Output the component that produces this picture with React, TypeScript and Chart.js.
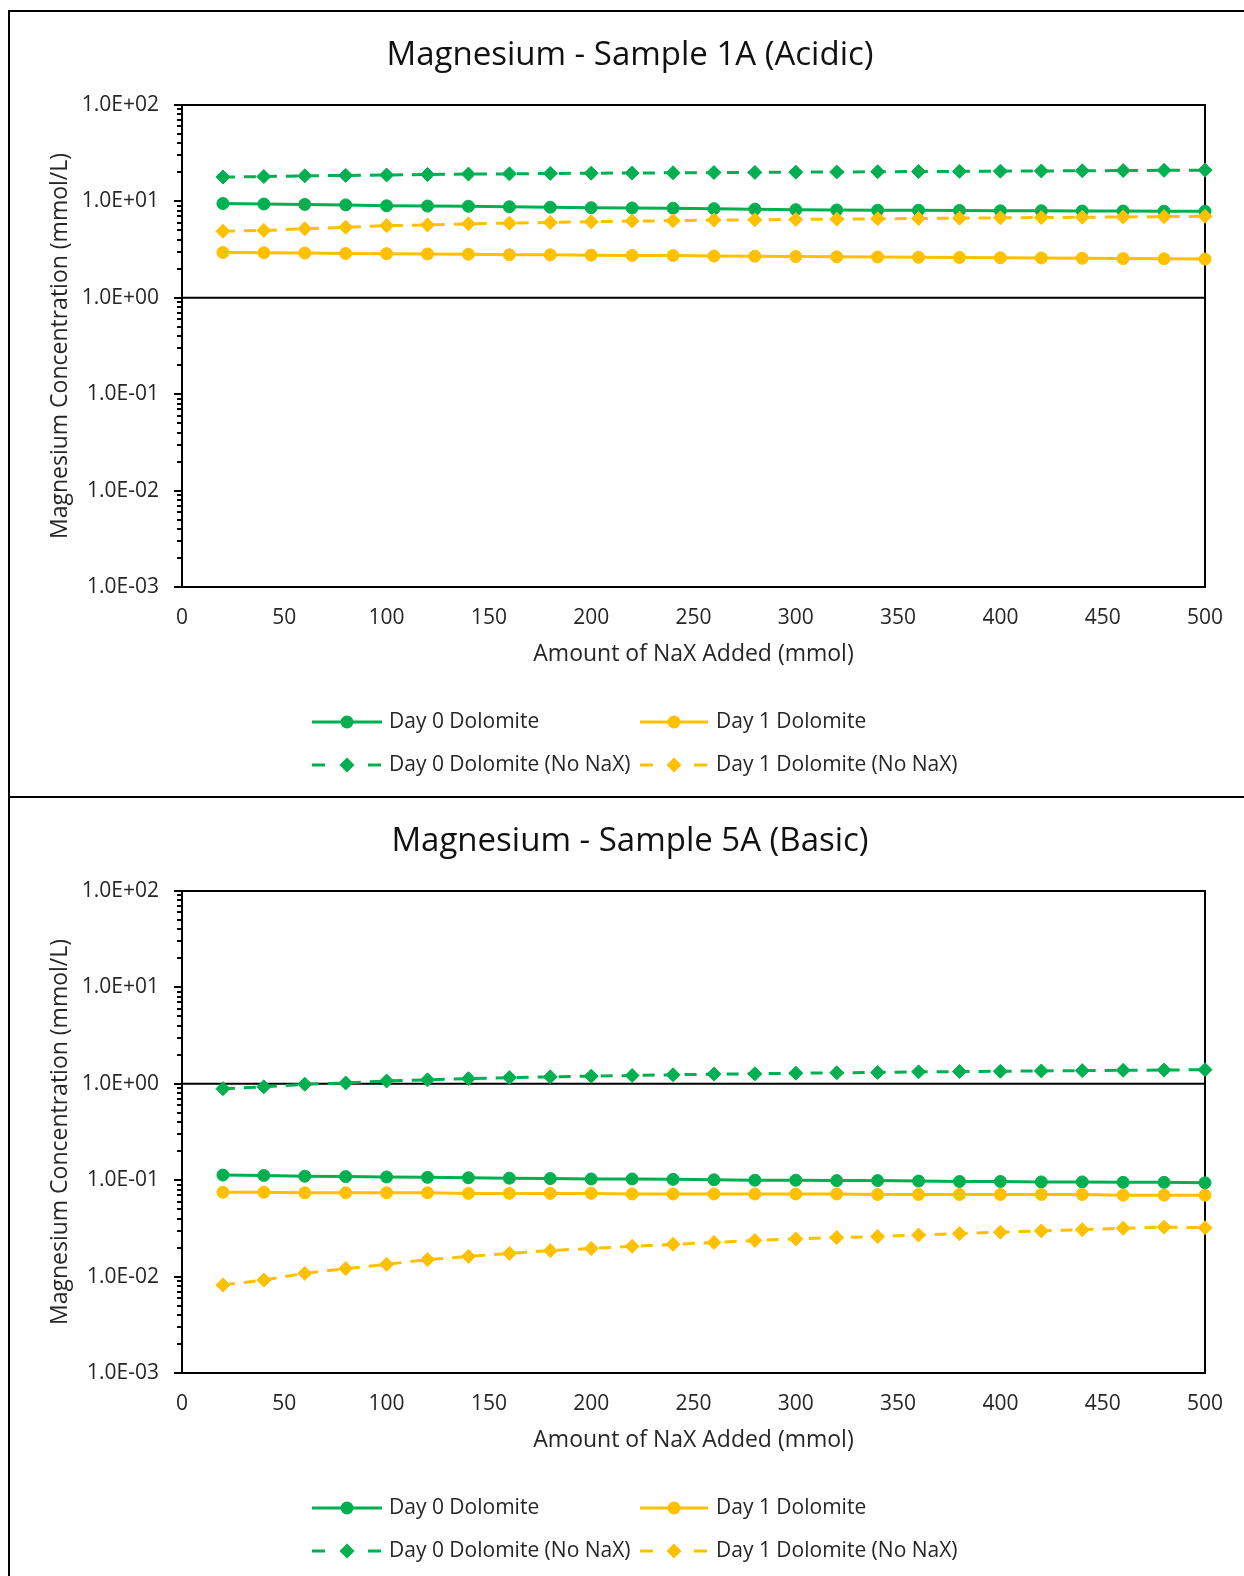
import { useEffect, useRef } from 'react';
import { Chart, registerables } from 'chart.js';

Chart.register(...registerables);

const FONT = '"Open Sans", "Noto Sans", sans-serif';
const TEXT_COLOR = '#262626';
const TITLE_COLOR = '#111111';
const GREEN = '#00B050';
const YELLOW = '#FFC000';

// Amount of NaX added (mmol)
const NAX_ADDED = [20, 40, 60, 80, 100, 120, 140, 160, 180, 200, 220, 240, 260, 280, 300, 320, 340, 360, 380, 400, 420, 440, 460, 480, 500];

const X_TICKS = [0, 50, 100, 150, 200, 250, 300, 350, 400, 450, 500];
const Y_TICKS = [0.001, 0.01, 0.1, 1, 10, 100];

const SERIES_LABELS = ['Day 0 Dolomite', 'Day 1 Dolomite', 'Day 0 Dolomite (No NaX)', 'Day 1 Dolomite (No NaX)'];

// Sample 1A (acidic), mmol/L
const ACIDIC_DAY0 = [9.5, 9.4, 9.3, 9.2, 9.0, 8.95, 8.9, 8.8, 8.7, 8.6, 8.55, 8.5, 8.4, 8.3, 8.2, 8.15, 8.1, 8.1, 8.05, 8.0, 8.0, 7.95, 7.95, 7.9, 7.9];
const ACIDIC_DAY1 = [2.95, 2.93, 2.91, 2.88, 2.87, 2.85, 2.83, 2.8, 2.79, 2.77, 2.75, 2.74, 2.71, 2.7, 2.68, 2.66, 2.65, 2.63, 2.62, 2.6, 2.59, 2.57, 2.55, 2.54, 2.52];
const ACIDIC_DAY0_NONAX = [17.9, 18.1, 18.4, 18.6, 18.8, 19.0, 19.2, 19.3, 19.5, 19.6, 19.7, 19.8, 19.9, 20.0, 20.1, 20.2, 20.3, 20.4, 20.5, 20.6, 20.7, 20.8, 20.9, 21.0, 21.1];
const ACIDIC_DAY1_NONAX = [4.9, 5.0, 5.2, 5.4, 5.6, 5.7, 5.85, 5.95, 6.05, 6.15, 6.25, 6.3, 6.4, 6.45, 6.5, 6.55, 6.6, 6.65, 6.7, 6.75, 6.8, 6.85, 6.9, 6.95, 7.0];

// Sample 5A (basic), mmol/L
const BASIC_DAY0 = [0.113, 0.112, 0.11, 0.109, 0.108, 0.107, 0.106, 0.105, 0.104, 0.103, 0.103, 0.102, 0.101, 0.1, 0.1, 0.099, 0.099, 0.098, 0.097, 0.097, 0.096, 0.096, 0.095, 0.095, 0.094];
const BASIC_DAY1 = [0.075, 0.075, 0.074, 0.074, 0.074, 0.074, 0.073, 0.073, 0.073, 0.073, 0.072, 0.072, 0.072, 0.072, 0.072, 0.072, 0.071, 0.071, 0.071, 0.071, 0.071, 0.071, 0.07, 0.07, 0.07];
const BASIC_DAY0_NONAX = [0.89, 0.93, 0.99, 1.02, 1.07, 1.1, 1.13, 1.16, 1.18, 1.2, 1.22, 1.24, 1.26, 1.27, 1.29, 1.3, 1.31, 1.33, 1.34, 1.35, 1.36, 1.37, 1.38, 1.39, 1.4];
const BASIC_DAY1_NONAX = [0.0082, 0.0092, 0.0108, 0.0121, 0.0134, 0.015, 0.0162, 0.0174, 0.0186, 0.0196, 0.0206, 0.0216, 0.0226, 0.0237, 0.0246, 0.0254, 0.026, 0.027, 0.0279, 0.0289, 0.0298, 0.0307, 0.0317, 0.0326, 0.0322];

const CANVAS_W = 1234;
const CANVAS_H = 784;

type Series = { label: string; data: number[]; color: string; dashed: boolean };

function sci(v: number): string {
  const e = Math.floor(Math.log10(v) + 1e-9);
  const m = v / Math.pow(10, e);
  const sign = e < 0 ? '-' : '+';
  return m.toFixed(1) + 'E' + sign + String(Math.abs(e)).padStart(2, '0');
}

function drawMarker(ctx: CanvasRenderingContext2D, x: number, y: number, dashed: boolean, color: string) {
  ctx.fillStyle = color;
  ctx.beginPath();
  if (dashed) {
    const r = 7.5;
    ctx.moveTo(x, y - r);
    ctx.lineTo(x + r, y);
    ctx.lineTo(x, y + r);
    ctx.lineTo(x - r, y);
    ctx.closePath();
  } else {
    ctx.arc(x, y, 6.5, 0, Math.PI * 2);
  }
  ctx.fill();
}

function makeDecor(title: string, series: Series[]) {
  return {
    id: 'excelDecor',
    beforeDatasetsDraw(chart: any) {
      const { ctx, chartArea: a, scales } = chart;
      const y = scales.y;
      ctx.save();
      ctx.strokeStyle = '#000';
      ctx.lineWidth = 2;
      ctx.strokeRect(a.left, a.top, a.right - a.left, a.bottom - a.top);
      // horizontal axis crossing at 1.0
      const y1 = y.getPixelForValue(1);
      ctx.beginPath();
      ctx.moveTo(a.left, y1);
      ctx.lineTo(a.right, y1);
      ctx.stroke();
      // major and minor tick marks on the log axis
      for (let k = 0; k < Y_TICKS.length; k++) {
        const base = Y_TICKS[k];
        for (let m = 1; m <= 9; m++) {
          const v = base * m;
          if (v > Y_TICKS[Y_TICKS.length - 1] * 1.0001) break;
          const py = Math.round(y.getPixelForValue(v));
          const len = m === 1 ? 8 : 5;
          ctx.beginPath();
          ctx.moveTo(a.left - len, py);
          ctx.lineTo(a.left, py);
          ctx.stroke();
        }
      }
      ctx.restore();
    },
    afterDraw(chart: any) {
      const { ctx, chartArea: a } = chart;
      ctx.save();
      ctx.textBaseline = 'middle';
      // chart title
      ctx.fillStyle = TITLE_COLOR;
      ctx.textAlign = 'center';
      ctx.font = `33px ${FONT}`;
      ctx.fillText(title, 620, 44);
      // axis titles
      ctx.fillStyle = TEXT_COLOR;
      ctx.font = `23px ${FONT}`;
      ctx.fillText('Amount of NaX Added (mmol)', (a.left + a.right) / 2, 642);
      ctx.save();
      ctx.translate(50, (a.top + a.bottom) / 2);
      ctx.rotate(-Math.PI / 2);
      ctx.fillText('Magnesium Concentration (mmol/L)', 0, 0);
      ctx.restore();
      // legend, two columns by two rows
      ctx.font = `21px ${FONT}`;
      const cols = [
        { x0: 302, x1: 372, tx: 379 },
        { x0: 630, x1: 698, tx: 706 },
      ];
      const rows = [710, 753];
      series.forEach((s, i) => {
        const c = cols[i % 2];
        const ry = rows[Math.floor(i / 2)];
        ctx.strokeStyle = s.color;
        ctx.lineWidth = 3;
        ctx.beginPath();
        if (s.dashed) {
          ctx.moveTo(c.x0, ry);
          ctx.lineTo(c.x0 + 13, ry);
          ctx.moveTo(c.x1 - 14, ry);
          ctx.lineTo(c.x1 - 1, ry);
        } else {
          ctx.moveTo(c.x0, ry);
          ctx.lineTo(c.x1, ry);
        }
        ctx.stroke();
        drawMarker(ctx, (c.x0 + c.x1) / 2, ry, s.dashed, s.color);
        ctx.fillStyle = TEXT_COLOR;
        ctx.textAlign = 'left';
        ctx.fillText(s.label, c.tx, ry);
      });
      ctx.restore();
    },
  };
}

function MagnesiumChart({ title, series }: { title: string; series: Series[] }) {
  const ref = useRef<HTMLCanvasElement>(null);

  useEffect(() => {
    const canvas = ref.current;
    if (!canvas) return;
    const chart = new Chart(canvas, {
      type: 'line',
      data: {
        datasets: series.map((s, i) => ({
          label: s.label,
          data: NAX_ADDED.map((x, k) => ({ x, y: s.data[k] })),
          borderColor: s.color,
          backgroundColor: s.color,
          borderWidth: 3,
          borderDash: s.dashed ? [12, 9] : [],
          pointStyle: s.dashed ? 'rectRot' : 'circle',
          pointRadius: s.dashed ? 7 : 6,
          pointBorderWidth: 1,
          pointBorderColor: s.color,
          pointBackgroundColor: s.color,
          tension: 0,
          clip: false,
          order: series.length - i,
        })),
      },
      options: {
        animation: false,
        responsive: false,
        events: [],
        layout: { padding: { top: 93, right: 39, bottom: 129, left: 0 } },
        plugins: {
          legend: { display: false },
          title: { display: false },
          tooltip: { enabled: false },
        },
        scales: {
          x: {
            type: 'linear',
            min: 0,
            max: 500,
            afterBuildTicks: (s: any) => {
              s.ticks = X_TICKS.map((value) => ({ value }));
            },
            ticks: {
              color: TEXT_COLOR,
              font: { family: FONT, size: 21 },
              padding: 18,
              maxRotation: 0,
              autoSkip: false,
            },
            grid: { display: false, drawTicks: false },
            border: { display: false },
            afterFit: (s: any) => {
              s.height = 80;
              s.paddingLeft = 0;
              s.paddingRight = 0;
            },
          },
          y: {
            type: 'logarithmic',
            min: Y_TICKS[0],
            max: Y_TICKS[Y_TICKS.length - 1],
            afterBuildTicks: (s: any) => {
              s.ticks = Y_TICKS.map((value) => ({ value }));
            },
            ticks: {
              color: TEXT_COLOR,
              font: { family: FONT, size: 21 },
              padding: 23,
              autoSkip: false,
              callback: (v: any) => sci(Number(v)),
            },
            grid: { display: false, drawTicks: false },
            border: { display: false },
            afterFit: (s: any) => {
              s.width = 172;
              s.paddingTop = 0;
              s.paddingBottom = 0;
            },
          },
        },
      },
      plugins: [makeDecor(title, series)],
    } as any);
    return () => chart.destroy();
  }, [title, series]);

  return <canvas ref={ref} width={CANVAS_W} height={CANVAS_H} style={{ display: 'block', width: CANVAS_W, height: CANVAS_H }} />;
}

const ACIDIC_SERIES: Series[] = [
  { label: SERIES_LABELS[0], data: ACIDIC_DAY0, color: GREEN, dashed: false },
  { label: SERIES_LABELS[1], data: ACIDIC_DAY1, color: YELLOW, dashed: false },
  { label: SERIES_LABELS[2], data: ACIDIC_DAY0_NONAX, color: GREEN, dashed: true },
  { label: SERIES_LABELS[3], data: ACIDIC_DAY1_NONAX, color: YELLOW, dashed: true },
];

const BASIC_SERIES: Series[] = [
  { label: SERIES_LABELS[0], data: BASIC_DAY0, color: GREEN, dashed: false },
  { label: SERIES_LABELS[1], data: BASIC_DAY1, color: YELLOW, dashed: false },
  { label: SERIES_LABELS[2], data: BASIC_DAY0_NONAX, color: GREEN, dashed: true },
  { label: SERIES_LABELS[3], data: BASIC_DAY1_NONAX, color: YELLOW, dashed: true },
];

const panelStyle = (top: number): React.CSSProperties => ({
  position: 'absolute',
  left: 8,
  top,
  width: 1240,
  height: 786,
  boxSizing: 'border-box',
  borderTop: '2px solid #000',
  borderLeft: '2px solid #000',
  background: '#fff',
});

export default function App() {
  return (
    <div style={{ position: 'fixed', left: 0, top: 0, width: 1244, height: 1576, overflow: 'hidden', background: '#fff' }}>
      <div style={panelStyle(10)}>
        <MagnesiumChart title="Magnesium - Sample 1A (Acidic)" series={ACIDIC_SERIES} />
      </div>
      <div style={panelStyle(796)}>
        <MagnesiumChart title="Magnesium - Sample 5A (Basic)" series={BASIC_SERIES} />
      </div>
    </div>
  );
}
